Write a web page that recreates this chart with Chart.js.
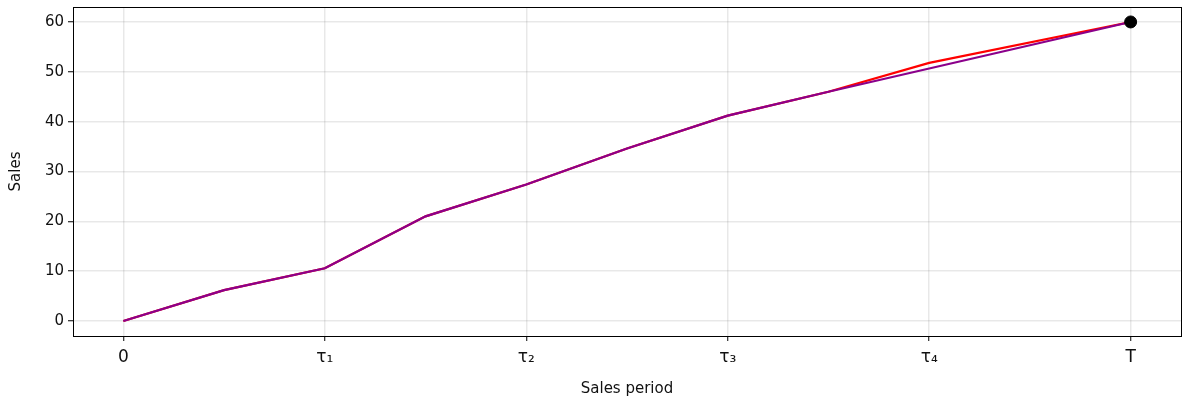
<!DOCTYPE html>
<html>
<head>
<meta charset="utf-8">
<script src="https://cdn.jsdelivr.net/npm/chart.js@4/dist/chart.umd.min.js"></script>
<style>
  html, body { margin: 0; padding: 0; background: #fff; }
  #wrap { width: 1188px; height: 402px; }
</style>
</head>
<body>
<div id="wrap"><canvas id="grafica"></canvas></div>
<script>
// periodos (x) y etiquetas de los ticks
const periodos = [0, 0.5, 1, 1.5, 2, 2.5, 3, 3.5, 4, 5];
const tickPos = [0, 1, 2, 3, 4, 5];
const tickLabels = ['0', 'τ₁', 'τ₂', 'τ₃', 'τ₄', 'T'];
const yTicks = [0, 10, 20, 30, 40, 50, 60];

// ventas de la serie roja y de la morada
const ventasRojo = [0, 6.2, 10.6, 21, 27.4, 34.6, 41.2, 46, 51.8, 60];
const xMorado = [0, 0.5, 1, 1.5, 2, 2.5, 3, 3.5, 5];
const ventasMorado = [0, 6.2, 10.6, 21, 27.4, 34.6, 41.2, 46, 60];

// punto final
const puntoFinal = [{ x: 5, y: 60 }];

const fuente = { family: 'DejaVu Sans', size: 15 };
const rejilla = { color: 'rgba(0,0,0,0.09)', lineWidth: 1.5, tickColor: '#000', tickLength: 5, tickWidth: 1 };

// marco negro alrededor del area
const marco = {
    id: 'marco',
    afterDraw(chart) {
        const a = chart.chartArea, c = chart.ctx;
        c.save();
        c.strokeStyle = '#000';
        c.lineWidth = 1;
        c.strokeRect(a.left + 0.5, a.top + 0.5, a.right - a.left, a.bottom - a.top);
        c.restore();
    }
};

const config = {
    type: 'line',
    data: {
        datasets: [
            {
                data: periodos.map((x, i) => ({ x: x, y: ventasRojo[i] })),
                borderColor: '#ff0000',
                borderWidth: 2.2,
                pointRadius: 0,
                order: 3
            },
            {
                data: xMorado.map((x, i) => ({ x: x, y: ventasMorado[i] })),
                borderColor: '#8b008b',
                borderWidth: 2.2,
                pointRadius: 0,
                order: 2
            },
            {
                data: puntoFinal,
                showLine: false,
                pointRadius: 6,
                pointBackgroundColor: '#000',
                pointBorderColor: '#000',
                order: 1
            }
        ]
    },
    options: {
        responsive: true,
        maintainAspectRatio: false,
        animation: false,
        layout: { padding: { top: 6, right: 7, left: 3, bottom: 0 } },
        plugins: { legend: { display: false }, tooltip: { enabled: false } },
        scales: {
            x: {
                type: 'linear',
                min: -0.25,
                max: 5.25,
                afterBuildTicks: s => { s.ticks = tickPos.map(v => ({ value: v })); },
                afterFit: s => { s.height = 66; s.paddingLeft = 0; s.paddingRight = 0; },
                ticks: {
                    font: { family: 'DejaVu Sans', size: 17 },
                    color: '#111',
                    padding: 6,
                    maxRotation: 0,
                    callback: v => tickLabels[tickPos.indexOf(v)]
                },
                grid: rejilla,
                border: { display: true, color: '#000' },
                title: { display: true, text: 'Sales period', font: fuente, color: '#111', padding: { top: 1 } }
            },
            y: {
                min: -3,
                max: 63,
                afterBuildTicks: s => { s.ticks = yTicks.map(v => ({ value: v })); },
                afterFit: s => { s.width = 70; s.paddingTop = 0; s.paddingBottom = 0; },
                ticks: { font: fuente, color: '#111', padding: 4 },
                grid: rejilla,
                border: { display: true, color: '#000' },
                title: { display: true, text: 'Sales', font: fuente, color: '#111', padding: { bottom: 2 } }
            }
        }
    },
    plugins: [marco]
};

new Chart(document.getElementById('grafica'), config);
</script>
</body>
</html>
